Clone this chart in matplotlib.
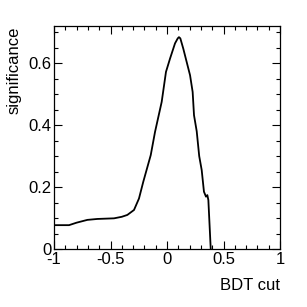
import numpy as np
import matplotlib
matplotlib.use("Agg")
from matplotlib import pyplot as plt
from matplotlib.ticker import MultipleLocator

plt.rcParams['font.family'] = ['Liberation Sans', 'DejaVu Sans']

# values
bdt_cut = [-1.0, -0.867, -0.80, -0.705, -0.617, -0.469, -0.40, -0.351, -0.292, -0.248,
           -0.21, -0.144, -0.106, -0.047, -0.009, 0.027, 0.071, 0.095, 0.106, 0.118,
           0.144, 0.174, 0.204, 0.227, 0.239, 0.263, 0.285, 0.307, 0.327, 0.345,
           0.357, 0.366, 0.387]
significance = [0.077, 0.077, 0.085, 0.094, 0.097, 0.099, 0.104, 0.110, 0.126, 0.163,
                0.217, 0.303, 0.378, 0.475, 0.572, 0.615, 0.664, 0.680, 0.684, 0.680,
                0.647, 0.604, 0.561, 0.507, 0.432, 0.380, 0.300, 0.255, 0.185, 0.169,
                0.174, 0.158, 0.0]

fig = plt.figure(figsize=(3.07, 3.07), dpi=100)
ax = fig.add_axes([54/307, 58/307, 226/307, 223/307])
ax.plot(bdt_cut, significance, color="black", lw=1.3)

ax.set_xlim(-1, 1)
ax.set_ylim(0, 0.72)
ax.xaxis.set_minor_locator(MultipleLocator(0.1))
ax.yaxis.set_minor_locator(MultipleLocator(0.05))
ax.set_xticks([-1, -0.5, 0, 0.5, 1])
ax.set_xticklabels(["-1", "-0.5", "0", "0.5", "1"])
ax.set_yticks([0, 0.2, 0.4, 0.6])
ax.set_yticklabels(["0", "0.2", "0.4", "0.6"])
ax.tick_params(which="both", direction="in", top=True, right=True, labelsize=12, width=0.8)
ax.tick_params(which="major", length=6)
ax.tick_params(which="minor", length=3)
ax.tick_params(axis="x", pad=2)
ax.tick_params(axis="y", pad=2)
for s in ax.spines.values():
    s.set_linewidth(0.9)

fig.text(280/307, 1 - 285/307, "BDT cut", ha="right", va="center", fontsize=12)
fig.text(14/307, 1 - 27/307, "significance", ha="center", va="top", rotation=90, fontsize=12)

plt.savefig("out.png", dpi=100)
